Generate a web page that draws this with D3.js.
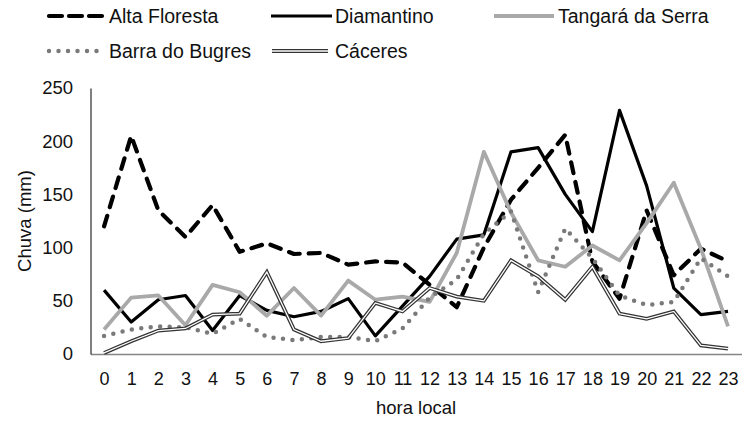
<!DOCTYPE html>
<html>
<head>
<meta charset="utf-8">
<script src="https://cdn.jsdelivr.net/npm/d3@7"></script>
<style>
  body { margin: 0; background: #fff; }
  text { font-family: "Liberation Sans", Arial, sans-serif; fill: #111; }
</style>
</head>
<body>
<div id="chart"></div>
<script>
// hours on the x axis
var hours = d3.range(0, 24).map(String);

// rainfall per hour (mm)
var altaFloresta  = [120, 205, 135, 110, 140, 96, 104, 94, 95, 84, 87, 86, 65, 44, 100, 145, 175, 206, 87, 52, 135, 74, 99, 87];
var diamantino    = [60, 30, 51, 55, 22, 55, 41, 35, 40, 52, 17, 45, 73, 108, 112, 190, 194, 150, 115, 229, 158, 62, 37, 40];
var tangara       = [23, 53, 55, 27, 65, 58, 36, 62, 36, 69, 51, 54, 49, 95, 190, 133, 88, 82, 102, 88, 123, 161, 99, 26];
var barraBugres   = [17, 23, 26, 25, 19, 33, 16, 13, 16, 16, 12, 24, 53, 70, 113, 134, 58, 118, 90, 55, 46, 49, 90, 73];
var caceres       = [1, 12, 22, 24, 37, 38, 77, 23, 12, 15, 48, 40, 62, 54, 50, 88, 73, 51, 82, 38, 33, 40, 8, 5];

var yTicks = [0, 50, 100, 150, 200, 250];

var series = [
  {name: "Alta Floresta", values: altaFloresta, style: "dash"},
  {name: "Diamantino", values: diamantino, style: "solid"},
  {name: "Tangará da Serra", values: tangara, style: "gray"},
  {name: "Barra do Bugres", values: barraBugres, style: "dot"},
  {name: "Cáceres", values: caceres, style: "double"}
];

var width = 742, height = 421;
var svg = d3.select("#chart").append("svg")
  .attr("width", width)
  .attr("height", height);

var x = d3.scalePoint()
  .domain(hours)
  .range([90.5, 741.6])
  .padding(0.5);

var y = d3.scaleLinear()
  .domain([0, 250])
  .range([354, 88]);

// axes
var xAxis = svg.append("g")
  .attr("transform", "translate(0,354)")
  .call(d3.axisBottom(x).tickSize(0).tickPadding(18).tickSizeOuter(0));
xAxis.select(".domain").attr("stroke", "#858585").attr("stroke-width", 1.6);
xAxis.selectAll("text").style("font-size", "18px").attr("fill", "#111");

var yAxis = svg.append("g")
  .attr("transform", "translate(90.5,0)")
  .call(d3.axisLeft(y).tickValues(yTicks).tickSize(0).tickPadding(17.5).tickSizeOuter(0));
yAxis.select(".domain").attr("stroke", "#000").attr("stroke-width", 1);
yAxis.selectAll("text").style("font-size", "18.5px").attr("fill", "#111");

// axis titles
svg.append("text")
  .attr("x", 416).attr("y", 414)
  .attr("text-anchor", "middle")
  .style("font-size", "18.5px")
  .text("hora local");

svg.append("text")
  .attr("transform", "translate(31,221) rotate(-90)")
  .attr("text-anchor", "middle")
  .style("font-size", "18.5px")
  .text("Chuva (mm)");

// line styles
function applyStyle(sel, style) {
  if (style == "dash") {
    sel.attr("stroke", "#000").attr("stroke-width", 4.2)
      .attr("stroke-dasharray", "11,9").attr("stroke-linecap", "round");
  } else if (style == "solid") {
    sel.attr("stroke", "#000").attr("stroke-width", 3.2);
  } else if (style == "gray") {
    sel.attr("stroke", "#a9a9a9").attr("stroke-width", 3.8);
  } else if (style == "dot") {
    sel.attr("stroke", "#7a7a7a").attr("stroke-width", 4.5)
      .attr("stroke-dasharray", "0,9.5").attr("stroke-linecap", "round");
  }
}

var line = d3.line()
  .x(function(d, i) { return x(hours[i]); })
  .y(function(d) { return y(d); })
  .curve(d3.curveLinear);

var plot = svg.append("g");

series.forEach(function(s) {
  if (s.style == "double") {
    plot.append("path").attr("d", line(s.values))
      .attr("fill", "none").attr("stroke", "#333").attr("stroke-width", 3.8)
      .attr("stroke-linejoin", "miter");
    plot.append("path").attr("d", line(s.values))
      .attr("fill", "none").attr("stroke", "#fff").attr("stroke-width", 1.3);
  } else {
    var p = plot.append("path").attr("d", line(s.values))
      .attr("fill", "none").attr("stroke-linejoin", "round");
    applyStyle(p, s.style);
  }
});

// legend
var legendPos = [
  {x0: 47, x1: 102, tx: 109, y: 16},
  {x0: 271, x1: 332, tx: 335, y: 16},
  {x0: 494, x1: 554, tx: 558, y: 16},
  {x0: 47, x1: 102, tx: 109, y: 51},
  {x0: 272, x1: 328, tx: 335, y: 51}
];

var legend = svg.append("g");
series.forEach(function(s, i) {
  var lp = legendPos[i];
  if (s.style == "double") {
    legend.append("line").attr("x1", lp.x0).attr("x2", lp.x1).attr("y1", lp.y).attr("y2", lp.y)
      .attr("stroke", "#333").attr("stroke-width", 3.8);
    legend.append("line").attr("x1", lp.x0).attr("x2", lp.x1).attr("y1", lp.y).attr("y2", lp.y)
      .attr("stroke", "#fff").attr("stroke-width", 1.3);
  } else {
    var l = legend.append("line").attr("x1", lp.x0 + (s.style == "dash" || s.style == "dot" ? 2 : 0))
      .attr("x2", lp.x1).attr("y1", lp.y).attr("y2", lp.y);
    applyStyle(l, s.style);
    if (s.style == "dash") l.attr("stroke-dasharray", "13,7");
  }
  legend.append("text")
    .attr("x", lp.tx).attr("y", lp.y)
    .attr("dy", "0.35em")
    .style("font-size", "19.5px")
    .text(s.name);
});
</script>
</body>
</html>
